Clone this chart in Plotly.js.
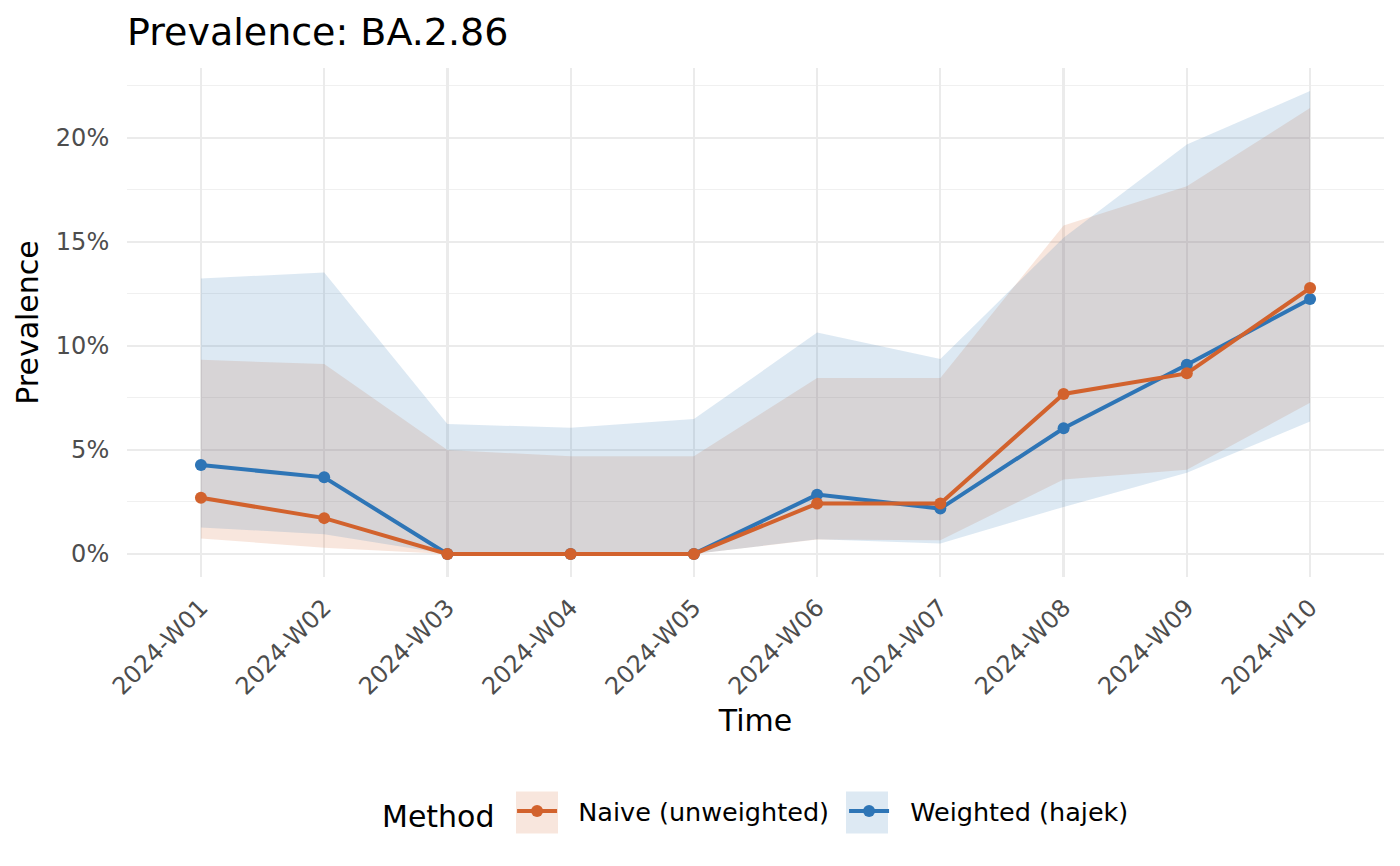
<!DOCTYPE html>
<html>
<head>
<meta charset="utf-8">
<script src="https://cdn.plot.ly/plotly-3.0.1.min.js"></script>
<style>html,body{margin:0;padding:0;background:#fff;}#chart{width:1400px;height:866px;}</style>
</head>
<body>
<div id="chart"></div>
<script>
// Data (prevalence in %)
const weeks = ["2024-W01","2024-W02","2024-W03","2024-W04","2024-W05","2024-W06","2024-W07","2024-W08","2024-W09","2024-W10"];
const naiveEst   = [2.70, 1.72, 0, 0, 0, 2.42, 2.42, 7.69, 8.68, 12.78];
const naiveLow   = [0.74, 0.30, 0, 0, 0, 0.69, 0.66, 3.58, 4.05, 7.27];
const naiveHigh  = [9.33, 9.13, 4.99, 4.70, 4.70, 8.46, 8.46, 15.79, 17.67, 21.44];
const hajekEst   = [4.27, 3.68, 0, 0, 0, 2.85, 2.18, 6.04, 9.09, 12.26];
const hajekLow   = [1.27, 0.95, 0, 0, 0, 0.70, 0.50, 2.26, 3.90, 6.36];
const hajekHigh  = [13.24, 13.53, 6.24, 6.07, 6.48, 10.64, 9.37, 15.20, 19.68, 22.25];
const yTicks = [0, 5, 10, 15, 20];
const methodNames = ["Naive (unweighted)", "Weighted (hajek)"];

const orange = "rgb(210,98,45)";
const blue = "rgb(46,117,182)";
const orangeFill = "rgba(210,98,45,0.16)";
const blueFill = "rgba(46,117,182,0.16)";
const NB = "\u00A0\u00A0";

function band(low, high, fill) {
  return [
    {x: weeks, y: low, type: "scatter", mode: "lines", line: {width: 0, color: "rgba(0,0,0,0)"}, showlegend: false, hoverinfo: "skip"},
    {x: weeks, y: high, type: "scatter", mode: "lines", line: {width: 0, color: "rgba(0,0,0,0)"}, fill: "tonexty", fillcolor: fill, showlegend: false, hoverinfo: "skip"}
  ];
}

const traces = [
  ...band(naiveLow, naiveHigh, orangeFill),
  ...band(hajekLow, hajekHigh, blueFill),
  {x: weeks, y: hajekEst, type: "scatter", mode: "lines+markers", name: NB + methodNames[1],
   line: {color: blue, width: 4}, marker: {color: blue, size: 12}, legendrank: 2},
  {x: weeks, y: naiveEst, type: "scatter", mode: "lines+markers", name: NB + methodNames[0],
   line: {color: orange, width: 4}, marker: {color: orange, size: 12}, legendrank: 1}
];

// legend key backgrounds (decoration only, paper coordinates)
const PW = 1257, PL = 127;
const keyY0 = (576.7 - 833) / 508.7, keyY1 = (576.7 - 791) / 508.7;
const key1 = 517, keyStride = 330;
const shapes = [
  {type: "rect", xref: "paper", yref: "paper", x0: (key1 - 1 - PL) / PW, x1: (key1 + 41 - PL) / PW, y0: keyY0, y1: keyY1,
   fillcolor: orangeFill, line: {width: 0}, layer: "below"},
  {type: "rect", xref: "paper", yref: "paper", x0: (key1 + keyStride - 1 - PL) / PW, x1: (key1 + keyStride + 41 - PL) / PW, y0: keyY0, y1: keyY1,
   fillcolor: blueFill, line: {width: 0}, layer: "below"}
];

const layout = {
  width: 1400, height: 866,
  paper_bgcolor: "#fff", plot_bgcolor: "#fff",
  font: {family: "DejaVu Sans, sans-serif", color: "#000"},
  margin: {l: 127, r: 16, t: 68, b: 289},
  title: {text: "Prevalence: BA.2.86", x: 0, xref: "paper", xanchor: "left",
          y: 0.963, yref: "container", yanchor: "middle", font: {size: 38, color: "#000"}},
  xaxis: {
    type: "category", range: [-0.6, 9.6], tickangle: -45,
    showgrid: true, gridcolor: "#EBEBEB", gridwidth: 2.2, zeroline: false, showline: false,
    ticks: "outside", ticklen: 6, tickcolor: "rgba(0,0,0,0)",
    tickfont: {size: 24, color: "#4D4D4D"},
    title: {text: "Time", font: {size: 30, color: "#000"}, standoff: 10}
  },
  yaxis: {
    range: [-1.11, 23.36], tickvals: yTicks, ticktext: yTicks.map(v => v + "%"),
    showgrid: true, gridcolor: "#EBEBEB", gridwidth: 2.2, zeroline: false, showline: false,
    minor: {dtick: 2.5, tick0: 2.5, showgrid: true, gridcolor: "#F0F0F0", gridwidth: 1.1},
    ticks: "outside", ticklen: 12, tickcolor: "rgba(0,0,0,0)",
    tickfont: {size: 24, color: "#4D4D4D"},
    title: {text: "Prevalence", font: {size: 30, color: "#000"}, standoff: 8}
  },
  legend: {
    orientation: "h", x: (380 - PL) / PW, xanchor: "left", y: -0.4626, yanchor: "middle",
    title: {text: "Method\u00A0", side: "left", font: {size: 30, color: "#000"}},
    font: {size: 25.5, color: "#000"}, traceorder: "normal", itemwidth: 40, entrywidth: 277,
    bgcolor: "rgba(0,0,0,0)"
  },
  shapes: shapes,
  showlegend: true
};

Plotly.newPlot("chart", traces, layout, {displayModeBar: false, staticPlot: true});
</script>
</body>
</html>
